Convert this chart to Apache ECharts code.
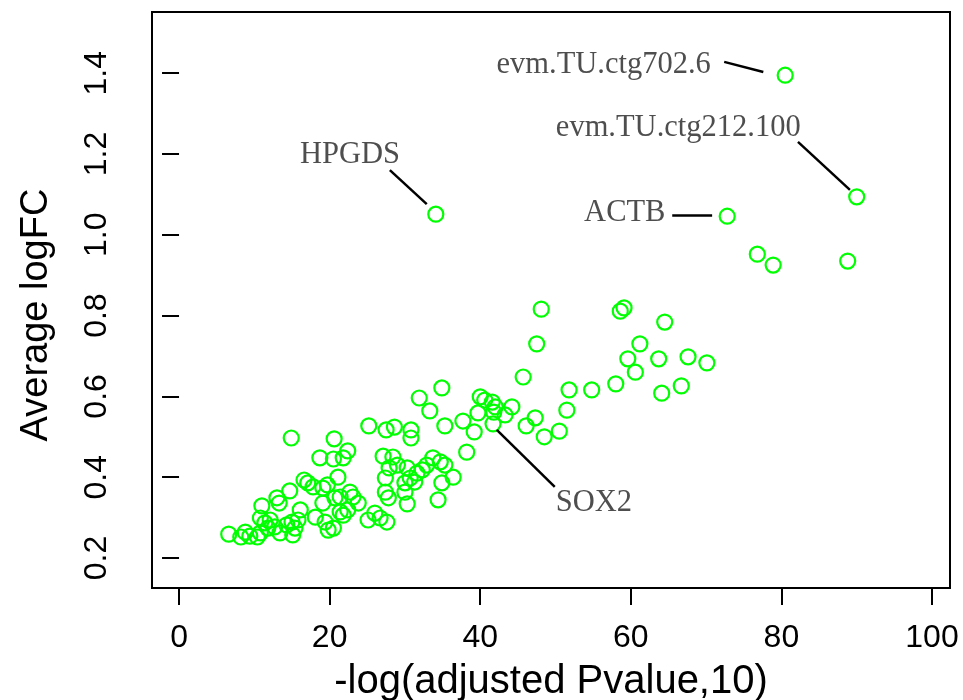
<!DOCTYPE html>
<html>
<head>
<meta charset="utf-8">
<script src="https://cdn.jsdelivr.net/npm/echarts@6/dist/echarts.min.js"></script>
<style>html,body{margin:0;padding:0;background:#fff}#c{width:963px;height:700px}</style>
</head>
<body>
<div id="c"></div>
<script>
// -log10(adjusted p-value)
const negLogP = [
  80.5, 90.0, 34.1, 72.8, 76.8, 78.9, 88.8,
  58.6, 59.1, 64.5, 61.2, 59.6, 63.7, 67.6, 70.1, 60.6, 58.0, 66.7, 64.1, 51.8, 54.8, 51.5, 48.1, 47.5, 45.7,
  34.9, 31.9, 33.3, 40.0, 40.6, 41.6, 42.0, 41.8, 43.3, 44.2, 39.7, 37.7, 35.3, 41.7, 39.2, 46.1, 47.3, 48.5, 50.5, 38.2,
  25.2, 27.5, 28.6, 30.8, 30.8, 20.6, 14.9, 20.5, 18.7, 21.8, 22.4, 21.1, 27.1, 28.4, 27.9, 29.0, 30.3, 27.4,
  31.6, 32.3, 32.9, 33.7, 34.7, 35.3, 36.4, 34.9, 30.0, 30.7, 31.3, 27.4, 27.8, 30.0, 30.3, 34.4,
  19.7, 19.1, 20.7, 21.4, 22.7, 23.1, 23.8, 19.1, 21.4, 21.8, 22.4, 25.1, 26.0, 26.7, 27.6, 19.4, 19.8, 20.5,
  16.6, 17.1, 17.8, 14.7, 13.0, 13.3, 11.0, 16.1, 18.1, 6.6, 8.2, 8.8, 9.4, 10.4, 10.8, 10.8, 11.4, 12.1, 12.7,
  13.4, 14.3, 15.0, 15.4, 15.1, 15.8, 11.8
];
// Average logFC
const avgLogFC = [
  1.395, 1.094, 1.051, 1.046, 0.952, 0.925, 0.935,
  0.811, 0.819, 0.784, 0.730, 0.693, 0.693, 0.698, 0.683, 0.660, 0.631, 0.626, 0.608, 0.616, 0.616, 0.566, 0.816, 0.730, 0.648,
  0.621, 0.596, 0.564, 0.599, 0.591, 0.586, 0.574, 0.561, 0.554, 0.574, 0.559, 0.539, 0.527, 0.532, 0.512, 0.527, 0.547, 0.500, 0.514, 0.462,
  0.527, 0.517, 0.524, 0.517, 0.497, 0.495, 0.497, 0.445, 0.448, 0.448, 0.465, 0.400, 0.452, 0.450, 0.423, 0.430, 0.423, 0.398,
  0.410, 0.418, 0.430, 0.448, 0.438, 0.430, 0.400, 0.386, 0.386, 0.398, 0.388, 0.363, 0.349, 0.363, 0.334, 0.344,
  0.381, 0.373, 0.349, 0.351, 0.363, 0.351, 0.336, 0.336, 0.314, 0.306, 0.319, 0.294, 0.311, 0.299, 0.289, 0.289, 0.269, 0.274,
  0.393, 0.386, 0.376, 0.366, 0.349, 0.336, 0.329, 0.319, 0.301, 0.259, 0.252, 0.264, 0.254, 0.252, 0.262, 0.299, 0.287, 0.294, 0.277,
  0.262, 0.282, 0.289, 0.274, 0.257, 0.294, 0.274
];
const xTicks = [0, 20, 40, 60, 80, 100];
const yTicks = [0.2, 0.4, 0.6, 0.8, 1.0, 1.2, 1.4];

// Annotated genes (text placement and leader segments in data units)
const geneNames  = ['evm.TU.ctg702.6', 'evm.TU.ctg212.100', 'HPGDS', 'ACTB', 'SOX2'];
const geneTextX  = [56.4, 66.3, 22.7, 59.2, 55.1];
const geneTextY  = [1.420, 1.264, 1.198, 1.054, 0.336];
const segFromX   = [72.4, 82.2, 28.0, 65.5, 42.2];
const segFromY   = [1.428, 1.230, 1.160, 1.049, 0.517];
const segToX     = [77.6, 89.1, 32.9, 70.8, 49.9];
const segToY     = [1.403, 1.111, 1.076, 1.049, 0.376];

const points = negLogP.map((x, i) => [x, avgLogFC[i]]);
const textPts = geneNames.map((n, i) => ({ value: [geneTextX[i], geneTextY[i]], name: n }));
const segs = geneNames.map((n, i) => [
  { coord: [segFromX[i], segFromY[i]] },
  { coord: [segToX[i], segToY[i]] }
]);

const chart = echarts.init(document.getElementById('c'), null, { renderer: 'canvas' });
const axisFont = { fontFamily: 'Liberation Sans, Arial, sans-serif', color: '#000' };
chart.setOption({
  backgroundColor: '#fff',
  animation: false,
  grid: {
    left: 152, right: 13, top: 12, bottom: 112,
    containLabel: false, outerBoundsMode: 'none',
    show: true, borderColor: '#000', borderWidth: 2, backgroundColor: 'transparent'
  },
  xAxis: {
    type: 'value', min: -3.59, max: 102.39,
    name: '-log(adjusted Pvalue,10)', nameLocation: 'middle', nameGap: 74,
    nameTextStyle: Object.assign({ fontSize: 40 }, axisFont),
    axisLine: { show: false },
    splitLine: { show: false },
    axisTick: { show: true, inside: false, length: 17, lineStyle: { color: '#000', width: 2 }, customValues: xTicks },
    axisLabel: Object.assign({ fontSize: 32, margin: 34, customValues: xTicks, formatter: v => String(v) }, axisFont)
  },
  yAxis: {
    type: 'value', min: 0.1257, max: 1.5515,
    name: 'Average logFC', nameLocation: 'middle', nameGap: 96, nameRotate: 90,
    nameTextStyle: Object.assign({ fontSize: 38, padding: [0, 30, 0, 0] }, axisFont),
    axisLine: { show: false },
    splitLine: { show: false },
    axisTick: { show: true, inside: false, length: 17, lineStyle: { color: '#000', width: 2 }, customValues: yTicks },
    axisLabel: Object.assign({ fontSize: 32, margin: 39, rotate: 90, customValues: yTicks, formatter: v => v.toFixed(1) }, axisFont)
  },
  series: [
    {
      type: 'scatter',
      data: points,
      symbol: 'circle',
      symbolSize: 15,
      itemStyle: { color: 'rgba(0,0,0,0)', borderColor: '#00ff00', borderWidth: 2.2, opacity: 1 },
      emphasis: { disabled: true },
      markLine: {
        silent: true,
        symbol: ['none', 'none'],
        label: { show: false },
        lineStyle: { color: '#000', width: 2.5, type: 'solid' },
        data: segs
      },
      z: 2
    },
    {
      type: 'scatter',
      data: textPts,
      symbolSize: 0,
      label: {
        show: true, position: 'inside', formatter: p => p.name,
        fontFamily: 'Liberation Serif, Times New Roman, serif', fontSize: 30.5, color: '#222'
      },
      emphasis: { disabled: true },
      z: 3
    }
  ]
});
</script>
</body>
</html>
